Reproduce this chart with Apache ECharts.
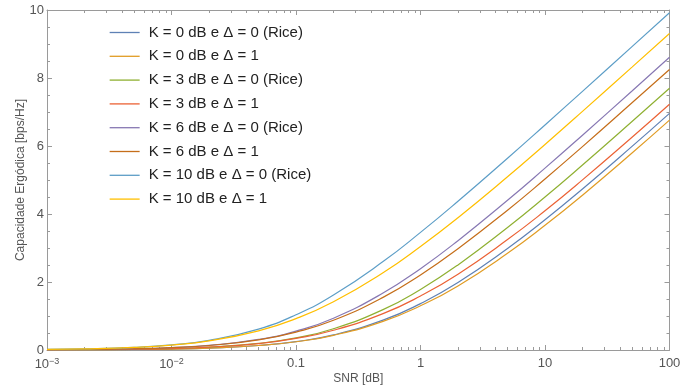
<!DOCTYPE html>
<html>
<head>
<meta charset="utf-8">
<script src="https://cdn.jsdelivr.net/npm/echarts@6/dist/echarts.min.js"></script>
<style>html,body{margin:0;padding:0;background:#fff}#c{width:694px;height:388px}</style>
</head>
<body>
<div id="c"></div>
<script>
// SNR sample points (linear values on a log axis)
const snr = [0.001, 0.002, 0.005, 0.01, 0.02, 0.05, 0.1, 0.2, 0.5, 1, 2, 5, 10, 20, 50, 100];
const seriesNames = [
  'K = 0 dB e Δ = 0 (Rice)',
  'K = 0 dB e Δ = 1',
  'K = 3 dB e Δ = 0 (Rice)',
  'K = 3 dB e Δ = 1',
  'K = 6 dB e Δ = 0 (Rice)',
  'K = 6 dB e Δ = 1',
  'K = 10 dB e Δ = 0 (Rice)',
  'K = 10 dB e Δ = 1'
];
const capK0Rice  = [0.003, 0.006, 0.014, 0.028, 0.056, 0.133, 0.248, 0.444, 0.878, 1.365, 1.984, 2.984, 3.830, 4.735, 5.988, 6.96];
const capK0D1    = [0.003, 0.006, 0.014, 0.028, 0.056, 0.132, 0.243, 0.432, 0.842, 1.301, 1.885, 2.845, 3.667, 4.554, 5.793, 6.76];
const capK3Rice  = [0.004, 0.009, 0.021, 0.043, 0.083, 0.195, 0.358, 0.626, 1.188, 1.782, 2.502, 3.602, 4.499, 5.441, 6.720, 7.70];
const capK3D1    = [0.004, 0.009, 0.021, 0.043, 0.083, 0.189, 0.340, 0.580, 1.070, 1.588, 2.230, 3.248, 4.095, 5.004, 6.259, 7.23];
const capK6Rice  = [0.007, 0.014, 0.035, 0.070, 0.135, 0.310, 0.555, 0.936, 1.675, 2.393, 3.216, 4.403, 5.348, 6.317, 7.618, 8.61];
const capK6D1    = [0.007, 0.014, 0.035, 0.070, 0.133, 0.300, 0.528, 0.875, 1.547, 2.206, 2.979, 4.112, 5.030, 5.982, 7.270, 8.25];
const capK10Rice = [0.016, 0.031, 0.077, 0.150, 0.282, 0.616, 1.036, 1.617, 2.600, 3.459, 4.376, 5.641, 6.619, 7.608, 8.922, 9.92];
const capK10D1   = [0.016, 0.031, 0.077, 0.146, 0.268, 0.564, 0.922, 1.418, 2.272, 3.045, 3.892, 5.095, 6.046, 7.018, 8.320, 9.31];
const capacities = [capK0Rice, capK0D1, capK3Rice, capK3D1, capK6Rice, capK6D1, capK10Rice, capK10D1];
const colors = ['#5E81B5', '#E19C24', '#8FB032', '#EB6235', '#8778B3', '#C56E1A', '#5D9EC7', '#FFBF00'];
const yTicks = [0, 2, 4, 6, 8, 10];
const xMinorTicks = [];
[0.001, 0.01, 0.1, 1, 10].forEach(d => { for (let m = 2; m <= 9; m++) xMinorTicks.push(+(d * m).toPrecision(3)); });

const frame = '#9a9a9a';
const labelColor = '#555';

const chart = echarts.init(document.getElementById('c'), null, {renderer: 'canvas'});

function xLabel(v) {
  const e = Math.round(Math.log10(v));
  if (e <= -2) return '{b|10}{s|−' + (-e) + '}';
  if (e === -1) return '0.1';
  return String(Math.round(v));
}

const baseX = {type: 'log', logBase: 10, min: 0.001, max: 100, splitLine: {show: false}};
const option = {
  animation: false,
  color: colors,
  grid: {left: 47, right: 24.5, top: 10, bottom: 38, containLabel: false, outerBoundsMode: 'none'},
  legend: {
    orient: 'vertical', left: 104, top: 20, padding: 5,
    itemWidth: 30, itemHeight: 12, itemGap: 8.8,
    itemStyle: {opacity: 0},
    lineStyle: {width: 1.3},
    textStyle: {fontFamily: 'Liberation Sans', fontSize: 15, lineHeight: 12, color: '#222', padding: [0, 0, 0, 4]},
    data: seriesNames
  },
  xAxis: [
    Object.assign({}, baseX, {
      position: 'bottom', name: 'SNR [dB]', nameLocation: 'middle', nameGap: 23, nameMoveOverlap: false,
      nameTextStyle: {fontFamily: 'Liberation Sans', fontSize: 12, color: labelColor},
      axisLine: {show: true, lineStyle: {color: frame, width: 1}},
      axisTick: {show: true, inside: true, length: 5, lineStyle: {color: frame}},
      axisLabel: {
        formatter: xLabel, margin: 7, color: labelColor, fontFamily: 'Liberation Sans', fontSize: 13,
        rich: {
          b: {fontFamily: 'Liberation Sans', fontSize: 13, color: labelColor},
          s: {fontFamily: 'Liberation Sans', fontSize: 9, color: labelColor, verticalAlign: 'top', padding: [0, 0, 6, 0]}
        }
      }
    }),
    Object.assign({}, baseX, {
      position: 'bottom',
      axisLine: {show: false},
      axisTick: {show: true, inside: true, length: 3, customValues: xMinorTicks, lineStyle: {color: frame}},
      axisLabel: {show: false}
    }),
    Object.assign({}, baseX, {
      position: 'top',
      axisLine: {show: true, lineStyle: {color: frame, width: 1}},
      axisTick: {show: true, inside: true, length: 5, lineStyle: {color: frame}},
      axisLabel: {show: false}
    }),
    Object.assign({}, baseX, {
      position: 'top',
      axisLine: {show: false},
      axisTick: {show: true, inside: true, length: 3, customValues: xMinorTicks, lineStyle: {color: frame}},
      axisLabel: {show: false}
    })
  ],
  yAxis: [
    {
      type: 'value', min: 0, max: 10, interval: 2, position: 'left',
      name: 'Capacidade Ergódica [bps/Hz]', nameLocation: 'middle', nameGap: 20, nameRotate: 90, nameMoveOverlap: false,
      nameTextStyle: {fontFamily: 'Liberation Sans', fontSize: 12, color: labelColor},
      splitLine: {show: false},
      axisLine: {show: true, lineStyle: {color: frame, width: 1}},
      axisTick: {show: true, inside: true, length: 5, lineStyle: {color: frame}},
      minorTick: {show: true, splitNumber: 4, length: 3, lineStyle: {color: frame}},
      axisLabel: {margin: 3, color: labelColor, fontFamily: 'Liberation Sans', fontSize: 13,
        customValues: yTicks}
    },
    {
      type: 'value', min: 0, max: 10, interval: 2, position: 'right',
      splitLine: {show: false},
      axisLine: {show: true, lineStyle: {color: frame, width: 1}},
      axisTick: {show: true, inside: true, length: 5, lineStyle: {color: frame}},
      minorTick: {show: true, splitNumber: 4, length: 3, lineStyle: {color: frame}},
      axisLabel: {show: false}
    }
  ],
  series: capacities.map((arr, i) => ({
    name: seriesNames[i],
    type: 'line',
    xAxisIndex: 0, yAxisIndex: 0,
    showSymbol: false, symbol: 'none',
    smooth: true,
    lineStyle: {width: 1.2, color: colors[i]},
    itemStyle: {color: colors[i]},
    data: snr.map((x, j) => [x, arr[j]])
  }))
};
chart.setOption(option);
</script>
</body>
</html>
